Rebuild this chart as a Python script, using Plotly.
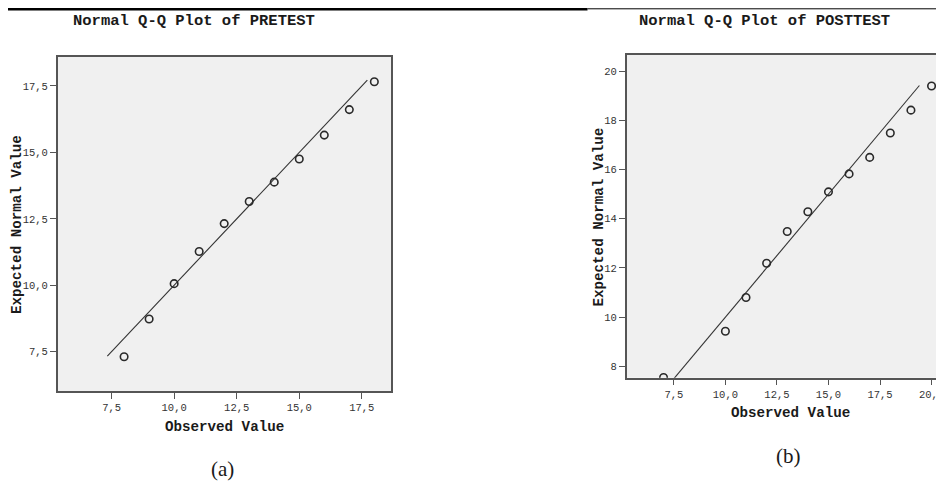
import plotly.graph_objects as go

# PRETEST
pre_observed = [8, 9, 10, 11, 12, 13, 14, 15, 16, 17, 18]
pre_expected = [7.31, 8.73, 10.06, 11.27, 12.32, 13.15, 13.88, 14.75, 15.65, 16.61, 17.66]
pre_line = [7.33, 17.72]
pre_xticks = [7.5, 10.0, 12.5, 15.0, 17.5]
pre_xtext = ["7,5", "10,0", "12,5", "15,0", "17,5"]
pre_yticks = [7.5, 10.0, 12.5, 15.0, 17.5]
pre_ytext = ["7,5", "10,0", "12,5", "15,0", "17,5"]

# POSTTEST
post_observed = [7, 10, 11, 12, 13, 14, 15, 16, 17, 18, 19, 20]
post_expected = [7.55, 9.43, 10.8, 12.19, 13.48, 14.28, 15.09, 15.82, 16.49, 17.48, 18.41, 19.39]
post_line = [7.0, 19.41]
post_xticks = [7.5, 10.0, 12.5, 15.0, 17.5, 20.0]
post_xtext = ["7,5", "10,0", "12,5", "15,0", "17,5", "20,0"]
post_yticks = [8, 10, 12, 14, 16, 18, 20]
post_ytext = ["8", "10", "12", "14", "16", "18", "20"]

# The page body has an 8px default margin, so the figure is drawn 8px in
OFF = 8
W, H = 944 - OFF, 484 - OFF
MONO = "Liberation Mono, Courier New, monospace"
SERIF = "Liberation Serif, Times New Roman, serif"
FRAME = "#555555"
MARK = "#2a2a2a"

fig = go.Figure()

def add_panel(xs, ys, line, xa, ya):
    fig.add_trace(go.Scatter(x=line, y=line, mode="lines",
                             line=dict(color="#333333", width=1.1),
                             xaxis=xa, yaxis=ya, showlegend=False, hoverinfo="skip"))
    fig.add_trace(go.Scatter(x=xs, y=ys, mode="markers",
                             marker=dict(symbol="circle-open", size=7.5,
                                         line=dict(color=MARK, width=1.6), color=MARK),
                             xaxis=xa, yaxis=ya, showlegend=False, cliponaxis=True))

add_panel(pre_observed, pre_expected, pre_line, "x", "y")
add_panel(post_observed, post_expected, post_line, "x2", "y2")

def px_x(p):
    return min(max((p - OFF) / W, 0), 1)

def px_y(p):
    return min(max(1 - (p - OFF) / H, 0), 1)

tickfont = dict(family=MONO, size=10.5, color="#333333")
axcommon = dict(showgrid=False, zeroline=False, showline=True, linecolor=FRAME,
                linewidth=1.5, ticks="outside", ticklen=6, tickwidth=1.3,
                tickcolor=FRAME, tickfont=tickfont, fixedrange=True,
                ticklabeloverflow="allow")

fig.update_layout(
    width=W, height=H,
    margin=dict(l=0, r=0, t=0, b=0),
    paper_bgcolor="white",
    plot_bgcolor="#f0f0f0",
    xaxis=dict(domain=[px_x(58), px_x(393)], range=[5.35, 18.68],
               tickvals=pre_xticks, ticktext=pre_xtext, mirror=True,
               anchor="y", **axcommon),
    yaxis=dict(domain=[px_y(391), px_y(57)], range=[6.02, 18.59],
               tickvals=pre_yticks, ticktext=pre_ytext, mirror=True,
               anchor="x", **axcommon),
    xaxis2=dict(domain=[px_x(629.3), 1.0], range=[5.21, 20.41],
                tickvals=post_xticks, ticktext=post_xtext, mirror=True,
                anchor="y2", **axcommon),
    yaxis2=dict(domain=[px_y(377.7), px_y(55)], range=[7.54, 20.65],
                tickvals=post_yticks, ticktext=post_ytext, mirror=False,
                anchor="x2", **axcommon),
)

# separator line at the top
fig.add_shape(type="line", xref="paper", yref="paper",
              x0=0, x1=px_x(590), y0=px_y(9.3), y1=px_y(9.3),
              line=dict(color="black", width=2.5))
fig.add_shape(type="line", xref="paper", yref="paper",
              x0=px_x(590), x1=1, y0=px_y(8.8), y1=px_y(8.8),
              line=dict(color="black", width=1))

def ann(text, x, y, size, family=MONO, angle=0, bold=True):
    fig.add_annotation(text=f"<b>{text}</b>" if bold else text,
                       x=px_x(x), y=px_y(y), xref="paper", yref="paper",
                       showarrow=False, textangle=angle,
                       xanchor="center", yanchor="middle",
                       font=dict(family=family, size=size, color="#1a1a1a"))

ann("Normal Q-Q Plot of PRETEST", 195, 21, 15.5)
ann("Normal Q-Q Plot of POSTTEST", 768, 21, 15.5)
ann("Expected Normal Value", 17, 224, 14.2, angle=-90)
ann("Expected Normal Value", 602, 217, 14.2, angle=-90)
ann("Observed Value", 225, 427, 14.2)
ann("Observed Value", 794, 413, 14.2)
ann("(a)", 223, 469, 21, family=SERIF, bold=False)
ann("(b)", 792, 456, 21, family=SERIF, bold=False)

fig.write_html("out.html")
